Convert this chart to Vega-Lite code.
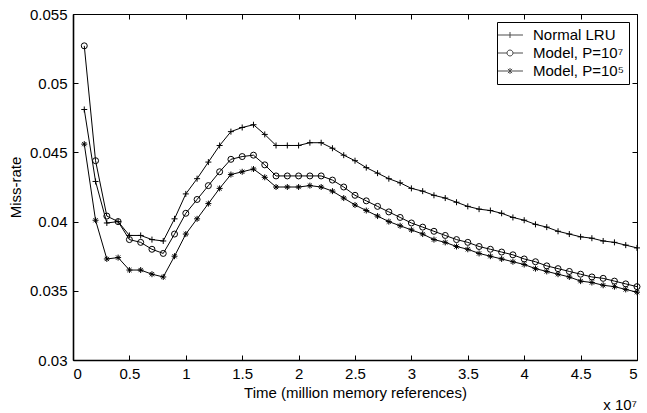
{
  "$schema": "https://vega.github.io/schema/vega-lite/v6.json",
  "width": 564,
  "height": 346,
  "autosize": {"type": "none"},
  "padding": {"left": 73, "top": 14, "right": 10, "bottom": 53},
  "background": "white",
  "config": {
    "font": "Liberation Sans",
    "view": {"stroke": "black", "strokeWidth": 1},
    "axis": {
      "domainColor": "black", "tickColor": "black", "labelColor": "black", "titleColor": "black",
      "labelFont": "Liberation Sans", "titleFont": "Liberation Sans",
      "labelFontSize": 15, "titleFontSize": 15, "titleFontWeight": "normal",
      "grid": false, "tickSize": -5, "tickWidth": 1, "domainWidth": 1.6
    },
    "legend": {
      "orient": "top-right", "offset": 8, "strokeColor": "black", "fillColor": "white",
      "padding": 5, "labelFontSize": 15, "labelFont": "Liberation Sans", "labelColor": "black",
      "symbolSize": 225, "rowPadding": 2, "labelOffset": 15, "cornerRadius": 0,
      "symbolStrokeWidth": 1, "symbolStrokeColor": "black"
    }
  },
  "title": {"text": "x 10⁷", "orient": "bottom", "anchor": "end", "frame": "group", "fontSize": 15, "fontWeight": "normal", "font": "Liberation Sans", "offset": -2, "color": "black"},
  "data": {"values": [
    {"time":0.1,"series":"Normal LRU","rate":0.0481},{"time":0.2,"series":"Normal LRU","rate":0.0429},{"time":0.3,"series":"Normal LRU","rate":0.0399},{"time":0.4,"series":"Normal LRU","rate":0.0400},{"time":0.5,"series":"Normal LRU","rate":0.0390},{"time":0.6,"series":"Normal LRU","rate":0.0390},{"time":0.7,"series":"Normal LRU","rate":0.0387},{"time":0.8,"series":"Normal LRU","rate":0.0386},{"time":0.9,"series":"Normal LRU","rate":0.0402},{"time":1.0,"series":"Normal LRU","rate":0.0420},
    {"time":1.1,"series":"Normal LRU","rate":0.0431},{"time":1.2,"series":"Normal LRU","rate":0.0443},{"time":1.3,"series":"Normal LRU","rate":0.0455},{"time":1.4,"series":"Normal LRU","rate":0.0465},{"time":1.5,"series":"Normal LRU","rate":0.0468},{"time":1.6,"series":"Normal LRU","rate":0.0470},{"time":1.7,"series":"Normal LRU","rate":0.0463},{"time":1.8,"series":"Normal LRU","rate":0.0455},{"time":1.9,"series":"Normal LRU","rate":0.0455},{"time":2.0,"series":"Normal LRU","rate":0.0455},
    {"time":2.1,"series":"Normal LRU","rate":0.0457},{"time":2.2,"series":"Normal LRU","rate":0.0457},{"time":2.3,"series":"Normal LRU","rate":0.0453},{"time":2.4,"series":"Normal LRU","rate":0.0448},{"time":2.5,"series":"Normal LRU","rate":0.0444},{"time":2.6,"series":"Normal LRU","rate":0.0439},{"time":2.7,"series":"Normal LRU","rate":0.0435},{"time":2.8,"series":"Normal LRU","rate":0.0431},{"time":2.9,"series":"Normal LRU","rate":0.0428},{"time":3.0,"series":"Normal LRU","rate":0.0424},
    {"time":3.1,"series":"Normal LRU","rate":0.0422},{"time":3.2,"series":"Normal LRU","rate":0.0419},{"time":3.3,"series":"Normal LRU","rate":0.0417},{"time":3.4,"series":"Normal LRU","rate":0.0414},{"time":3.5,"series":"Normal LRU","rate":0.0411},{"time":3.6,"series":"Normal LRU","rate":0.0409},{"time":3.7,"series":"Normal LRU","rate":0.0408},{"time":3.8,"series":"Normal LRU","rate":0.0406},{"time":3.9,"series":"Normal LRU","rate":0.0403},{"time":4.0,"series":"Normal LRU","rate":0.0401},
    {"time":4.1,"series":"Normal LRU","rate":0.0398},{"time":4.2,"series":"Normal LRU","rate":0.0396},{"time":4.3,"series":"Normal LRU","rate":0.0393},{"time":4.4,"series":"Normal LRU","rate":0.0391},{"time":4.5,"series":"Normal LRU","rate":0.0389},{"time":4.6,"series":"Normal LRU","rate":0.0388},{"time":4.7,"series":"Normal LRU","rate":0.0386},{"time":4.8,"series":"Normal LRU","rate":0.0385},{"time":4.9,"series":"Normal LRU","rate":0.0383},{"time":5.0,"series":"Normal LRU","rate":0.0381},

    {"time":0.1,"series":"Model, P=10⁷","rate":0.0527},{"time":0.2,"series":"Model, P=10⁷","rate":0.0444},{"time":0.3,"series":"Model, P=10⁷","rate":0.0404},{"time":0.4,"series":"Model, P=10⁷","rate":0.0400},{"time":0.5,"series":"Model, P=10⁷","rate":0.0387},{"time":0.6,"series":"Model, P=10⁷","rate":0.0385},{"time":0.7,"series":"Model, P=10⁷","rate":0.0380},{"time":0.8,"series":"Model, P=10⁷","rate":0.0377},{"time":0.9,"series":"Model, P=10⁷","rate":0.0391},{"time":1.0,"series":"Model, P=10⁷","rate":0.0406},
    {"time":1.1,"series":"Model, P=10⁷","rate":0.0416},{"time":1.2,"series":"Model, P=10⁷","rate":0.0426},{"time":1.3,"series":"Model, P=10⁷","rate":0.0436},{"time":1.4,"series":"Model, P=10⁷","rate":0.0445},{"time":1.5,"series":"Model, P=10⁷","rate":0.0447},{"time":1.6,"series":"Model, P=10⁷","rate":0.0448},{"time":1.7,"series":"Model, P=10⁷","rate":0.0441},{"time":1.8,"series":"Model, P=10⁷","rate":0.0433},{"time":1.9,"series":"Model, P=10⁷","rate":0.0433},{"time":2.0,"series":"Model, P=10⁷","rate":0.0433},
    {"time":2.1,"series":"Model, P=10⁷","rate":0.0433},{"time":2.2,"series":"Model, P=10⁷","rate":0.0433},{"time":2.3,"series":"Model, P=10⁷","rate":0.0430},{"time":2.4,"series":"Model, P=10⁷","rate":0.0425},{"time":2.5,"series":"Model, P=10⁷","rate":0.0419},{"time":2.6,"series":"Model, P=10⁷","rate":0.0415},{"time":2.7,"series":"Model, P=10⁷","rate":0.0411},{"time":2.8,"series":"Model, P=10⁷","rate":0.0407},{"time":2.9,"series":"Model, P=10⁷","rate":0.0403},{"time":3.0,"series":"Model, P=10⁷","rate":0.0399},
    {"time":3.1,"series":"Model, P=10⁷","rate":0.0396},{"time":3.2,"series":"Model, P=10⁷","rate":0.0393},{"time":3.3,"series":"Model, P=10⁷","rate":0.0390},{"time":3.4,"series":"Model, P=10⁷","rate":0.0387},{"time":3.5,"series":"Model, P=10⁷","rate":0.0385},{"time":3.6,"series":"Model, P=10⁷","rate":0.0382},{"time":3.7,"series":"Model, P=10⁷","rate":0.0380},{"time":3.8,"series":"Model, P=10⁷","rate":0.0378},{"time":3.9,"series":"Model, P=10⁷","rate":0.0376},{"time":4.0,"series":"Model, P=10⁷","rate":0.0373},
    {"time":4.1,"series":"Model, P=10⁷","rate":0.0371},{"time":4.2,"series":"Model, P=10⁷","rate":0.0368},{"time":4.3,"series":"Model, P=10⁷","rate":0.0366},{"time":4.4,"series":"Model, P=10⁷","rate":0.0364},{"time":4.5,"series":"Model, P=10⁷","rate":0.0362},{"time":4.6,"series":"Model, P=10⁷","rate":0.0360},{"time":4.7,"series":"Model, P=10⁷","rate":0.0359},{"time":4.8,"series":"Model, P=10⁷","rate":0.0357},{"time":4.9,"series":"Model, P=10⁷","rate":0.0355},{"time":5.0,"series":"Model, P=10⁷","rate":0.0353},

    {"time":0.1,"series":"Model, P=10⁵","rate":0.0456},{"time":0.2,"series":"Model, P=10⁵","rate":0.0401},{"time":0.3,"series":"Model, P=10⁵","rate":0.0373},{"time":0.4,"series":"Model, P=10⁵","rate":0.0374},{"time":0.5,"series":"Model, P=10⁵","rate":0.0365},{"time":0.6,"series":"Model, P=10⁵","rate":0.0365},{"time":0.7,"series":"Model, P=10⁵","rate":0.0362},{"time":0.8,"series":"Model, P=10⁵","rate":0.0360},{"time":0.9,"series":"Model, P=10⁵","rate":0.0375},{"time":1.0,"series":"Model, P=10⁵","rate":0.0391},
    {"time":1.1,"series":"Model, P=10⁵","rate":0.0402},{"time":1.2,"series":"Model, P=10⁵","rate":0.0413},{"time":1.3,"series":"Model, P=10⁵","rate":0.0424},{"time":1.4,"series":"Model, P=10⁵","rate":0.0434},{"time":1.5,"series":"Model, P=10⁵","rate":0.0436},{"time":1.6,"series":"Model, P=10⁵","rate":0.0438},{"time":1.7,"series":"Model, P=10⁵","rate":0.0432},{"time":1.8,"series":"Model, P=10⁵","rate":0.0425},{"time":1.9,"series":"Model, P=10⁵","rate":0.0425},{"time":2.0,"series":"Model, P=10⁵","rate":0.0425},
    {"time":2.1,"series":"Model, P=10⁵","rate":0.0426},{"time":2.2,"series":"Model, P=10⁵","rate":0.0425},{"time":2.3,"series":"Model, P=10⁵","rate":0.0422},{"time":2.4,"series":"Model, P=10⁵","rate":0.0417},{"time":2.5,"series":"Model, P=10⁵","rate":0.0412},{"time":2.6,"series":"Model, P=10⁵","rate":0.0408},{"time":2.7,"series":"Model, P=10⁵","rate":0.0404},{"time":2.8,"series":"Model, P=10⁵","rate":0.0400},{"time":2.9,"series":"Model, P=10⁵","rate":0.0397},{"time":3.0,"series":"Model, P=10⁵","rate":0.0394},
    {"time":3.1,"series":"Model, P=10⁵","rate":0.0391},{"time":3.2,"series":"Model, P=10⁵","rate":0.0387},{"time":3.3,"series":"Model, P=10⁵","rate":0.0385},{"time":3.4,"series":"Model, P=10⁵","rate":0.0382},{"time":3.5,"series":"Model, P=10⁵","rate":0.0380},{"time":3.6,"series":"Model, P=10⁵","rate":0.0377},{"time":3.7,"series":"Model, P=10⁵","rate":0.0375},{"time":3.8,"series":"Model, P=10⁵","rate":0.0373},{"time":3.9,"series":"Model, P=10⁵","rate":0.0371},{"time":4.0,"series":"Model, P=10⁵","rate":0.0369},
    {"time":4.1,"series":"Model, P=10⁵","rate":0.0366},{"time":4.2,"series":"Model, P=10⁵","rate":0.0364},{"time":4.3,"series":"Model, P=10⁵","rate":0.0362},{"time":4.4,"series":"Model, P=10⁵","rate":0.0360},{"time":4.5,"series":"Model, P=10⁵","rate":0.0357},{"time":4.6,"series":"Model, P=10⁵","rate":0.0356},{"time":4.7,"series":"Model, P=10⁵","rate":0.0354},{"time":4.8,"series":"Model, P=10⁵","rate":0.0353},{"time":4.9,"series":"Model, P=10⁵","rate":0.0351},{"time":5.0,"series":"Model, P=10⁵","rate":0.0349}
  ]},
  "layer": [
    {
      "mark": {"type": "line", "color": "black", "strokeWidth": 1},
      "encoding": {
        "x": {"field": "time", "type": "quantitative", "scale": {"domain": [0, 5], "nice": false, "zero": false},
              "axis": {"orient": "bottom", "values": [0,0.5,1,1.5,2,2.5,3,3.5,4,4.5,5], "format": "~g", "title": "Time (million memory references)", "labelPadding": 11, "titlePadding": 4}},
        "y": {"field": "rate", "type": "quantitative", "scale": {"domain": [0.03, 0.055], "nice": false, "zero": false},
              "axis": {"orient": "left", "values": [0.03,0.035,0.04,0.045,0.05,0.055], "format": "~g", "title": "Miss-rate", "labelPadding": 11, "titlePadding": 6}},
        "detail": {"field": "series"}
      }
    },
    {
      "mark": {"type": "point", "filled": false, "color": "black", "size": 36, "strokeWidth": 1, "opacity": 1},
      "encoding": {
        "x": {"field": "time", "type": "quantitative", "axis": null},
        "y": {"field": "rate", "type": "quantitative", "axis": null},
        "shape": {"field": "series", "type": "nominal", "legend": null,
          "scale": {"domain": ["Normal LRU", "Model, P=10⁷", "Model, P=10⁵"],
                    "range": ["M-1,0H1M0,-1V1", "circle", "M-1,0H1M0,-1V1M-0.7,-0.7L0.7,0.7M-0.7,0.7L0.7,-0.7"]}}
      }
    },
    {
      "transform": [{"filter": "false"}],
      "mark": {"type": "point", "filled": false, "color": "black", "strokeWidth": 1},
      "encoding": {
        "x": {"field": "time", "type": "quantitative", "axis": null},
        "y": {"field": "rate", "type": "quantitative", "axis": null},
        "shape": {"field": "series", "type": "nominal", "legend": {"title": null},
          "scale": {"domain": ["Normal LRU", "Model, P=10⁷", "Model, P=10⁵"],
                    "range": ["M-1.73,0H1.73M0,-0.4V0.4",
                              "M-1.73,0H-0.4M0.4,0H1.73M0.4,0A0.4,0.4,0,1,1,-0.4,0A0.4,0.4,0,1,1,0.4,0",
                              "M-1.73,0H1.73M0,-0.4V0.4M-0.28,-0.28L0.28,0.28M-0.28,0.28L0.28,-0.28"]}}
      }
    },
    {
      "mark": {"type": "point", "opacity": 0},
      "encoding": {
        "x": {"field": "time", "type": "quantitative",
              "axis": {"orient": "top", "values": [0,0.5,1,1.5,2,2.5,3,3.5,4,4.5,5], "labels": false, "title": null, "domain": false}},
        "y": {"field": "rate", "type": "quantitative",
              "axis": {"orient": "right", "values": [0.03,0.035,0.04,0.045,0.05,0.055], "labels": false, "title": null, "domain": false}}
      }
    }
  ],
  "resolve": {"axis": {"x": "independent", "y": "independent"}, "scale": {"shape": "independent"}}
}
